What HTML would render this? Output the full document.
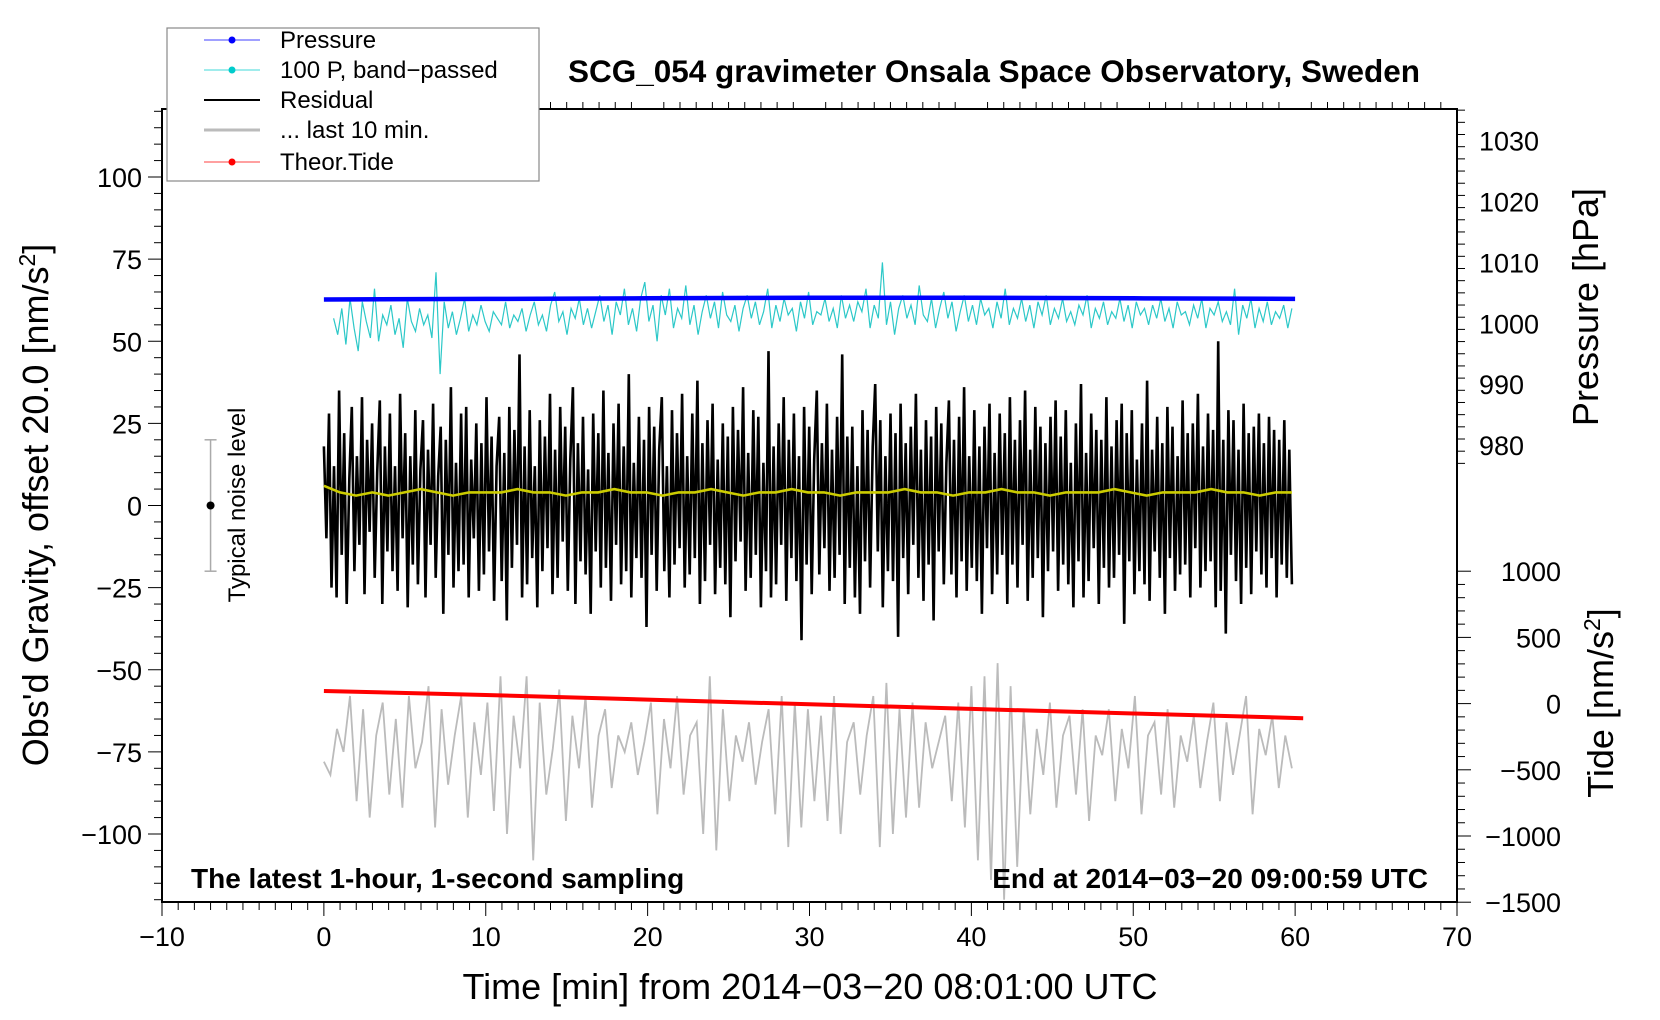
<!DOCTYPE html>
<html><head><meta charset="utf-8">
<style>
html,body{margin:0;padding:0;background:#fff;}
svg{display:block;font-family:"Liberation Sans",sans-serif;}
</style></head>
<body>
<svg id="chart" width="1660" height="1020" viewBox="0 0 1660 1020" xmlns="http://www.w3.org/2000/svg">
<rect x="0" y="0" width="1660" height="1020" fill="#fff"/>
<g id="plot"></g>
<g id="axes"></g>
<text x="994" y="82" font-size="31.5" font-weight="bold" text-anchor="middle">SCG_054 gravimeter Onsala Space Observatory, Sweden</text>
<text x="810" y="999" font-size="36" text-anchor="middle">Time [min] from 2014−03−20 08:01:00 UTC</text>
<text transform="translate(48,505) rotate(-90)" font-size="36" text-anchor="middle">Obs'd Gravity, offset 20.0 [nm/s<tspan font-size="23" dy="-13">2</tspan><tspan dy="13">]</tspan></text>
<text transform="translate(1598,307) rotate(-90)" font-size="36" text-anchor="middle">Pressure [hPa]</text>
<text transform="translate(1613,703) rotate(-90)" font-size="36" text-anchor="middle">Tide [nm/s<tspan font-size="23" dy="-13">2</tspan><tspan dy="13">]</tspan></text>
<text x="191" y="888" font-size="28" font-weight="bold">The latest 1-hour, 1-second sampling</text>
<text x="1428" y="888" font-size="28" font-weight="bold" text-anchor="end">End at 2014−03−20 09:00:59 UTC</text>
<text transform="translate(245,505) rotate(-90)" font-size="24" text-anchor="middle">Typical noise level</text>
<g id="legend">
<rect x="167" y="28" width="372" height="153" fill="#fff" stroke="#888" stroke-width="1.2"/>
<g><line x1="204" y1="40" x2="260" y2="40" stroke="#00f" stroke-width="0.8"/><circle cx="232" cy="40" r="3.5" fill="#00f"/><text x="280" y="48" font-size="24">Pressure</text></g>
<g><line x1="204" y1="70" x2="260" y2="70" stroke="#0cc" stroke-width="0.8"/><circle cx="232" cy="70" r="3.5" fill="#0cc"/><text x="280" y="78" font-size="24">100 P, band−passed</text></g>
<g><line x1="204" y1="100" x2="260" y2="100" stroke="#000" stroke-width="2"/><text x="280" y="108" font-size="24">Residual</text></g>
<g><line x1="204" y1="130" x2="260" y2="130" stroke="#bbb" stroke-width="3"/><text x="280" y="138" font-size="24">... last 10 min.</text></g>
<g><line x1="204" y1="162" x2="260" y2="162" stroke="#f00" stroke-width="0.8"/><circle cx="232" cy="162" r="3.5" fill="#f00"/><text x="280" y="170" font-size="24">Theor.Tide</text></g>
</g>
</svg>
<script>
// ---- data ----
const xTicks = [-10,0,10,20,30,40,50,60,70];
const yTicks = [-100,-75,-50,-25,0,25,50,75,100];
const pTicks = [980,990,1000,1010,1020,1030];
const tideTicks = [-1500,-1000,-500,0,500,1000];
const pressureTimes = [0,10,20,30,40,50,60];
const pressureVals = [1003.9,1004.0,1004.1,1004.2,1004.2,1004.1,1004.0];
const tideTimes = [0,10,20,30,40,50,60.5];
const tideVals = [95,65,30,-5,-40,-75,-110];
const yellowVals = [6,4,3,4,3,4,5,4,3,4,4,4,5,4,4,3,4,4,5,4,4,3,4,4,5,4,3,4,4,5,4,4,3,4,4,4,5,4,4,3,4,4,5,4,4,3,4,4,4,5,4,3,4,4,4,5,4,4,3,4,4];
const cyanVals = [57,52,60,49,63,54,47,62,56,51,66,50,58,55,61,52,57,48,63,56,53,60,55,58,51,71,40,62,54,59,52,57,63,53,58,55,61,56,53,59,57,55,62,54,58,56,60,53,58,62,55,58,53,61,65,56,59,52,60,57,63,55,60,54,59,64,56,61,52,62,58,66,55,60,53,63,68,56,61,50,64,58,66,54,60,57,67,55,61,52,59,64,57,62,54,65,58,56,61,53,60,64,57,62,55,59,66,54,61,56,63,58,60,53,62,57,65,55,59,58,63,56,60,54,64,57,61,56,62,59,66,54,61,57,74,55,62,52,60,64,57,61,55,67,58,56,63,54,60,65,57,62,53,59,64,56,61,55,63,58,60,54,62,57,66,55,60,57,63,56,61,54,62,58,64,55,60,57,63,56,59,55,61,58,64,54,60,57,62,55,59,57,63,56,61,54,62,58,60,55,61,57,63,56,60,54,62,58,59,55,61,57,63,54,60,58,62,56,59,55,66,52,61,57,63,54,60,56,62,55,59,57,61,54,60];
const residualVals = [18,-10,28,-25,12,-28,35,-15,22,-30,8,30,-20,15,-12,33,-27,20,-8,25,-22,10,32,-30,18,-14,28,-20,12,-26,34,-10,22,-31,15,-18,29,-24,11,26,-28,17,-12,31,-22,9,24,-33,20,-15,36,-25,13,-20,28,-18,30,-28,14,-10,25,-26,19,-21,33,-14,21,-29,12,27,-23,16,-35,30,-19,23,-12,46,-28,18,-24,29,-16,12,-31,26,-20,21,-13,34,-27,17,-22,30,-11,24,-26,14,36,-30,19,-17,27,-21,11,-33,28,-14,22,-25,35,-19,16,-29,25,-12,31,-24,18,-20,40,-28,13,-16,27,-22,20,-37,30,-15,24,-26,17,33,-20,12,-28,29,-18,22,-13,34,-25,15,-21,28,-16,38,-30,19,-23,26,-12,31,-27,14,-19,25,-24,21,-34,30,-17,23,-11,36,-26,16,-22,29,-15,27,-31,13,-20,47,-28,18,-24,25,-12,33,-29,20,-16,28,-23,15,-41,30,-18,24,-27,14,35,-21,19,-13,31,-26,17,-22,27,-15,46,-30,21,-19,24,-28,12,-33,29,-17,23,-25,18,37,-14,26,-31,15,-20,28,-23,22,-40,31,-16,19,-27,24,-12,34,-22,17,-29,26,-18,21,-35,30,-14,25,-24,13,32,-21,20,-28,27,-17,36,-26,15,-19,29,-23,18,-33,24,-13,31,-27,16,-21,28,-15,22,-30,33,-18,20,-25,26,-12,35,-29,17,-22,30,-16,24,-34,19,-20,27,-14,32,-26,21,-18,29,-24,13,-31,25,-17,37,-28,16,-23,28,-13,23,-30,20,-19,33,-25,18,-22,26,-15,31,-36,22,-17,29,-27,14,-20,25,-24,38,-29,17,-14,27,-22,19,-33,30,-16,24,-26,15,-21,32,-18,22,-28,25,-13,34,-25,18,-20,28,-17,23,-31,50,-26,20,-39,29,-15,26,-23,17,-30,31,-19,22,-27,24,-14,28,-21,19,-25,27,-16,23,-28,20,-18,26,-22,17,-24];
const grayVals = [-78,-82,-68,-75,-58,-90,-62,-95,-70,-60,-88,-65,-92,-58,-80,-72,-55,-98,-62,-85,-70,-58,-95,-66,-82,-60,-93,-52,-100,-64,-80,-52,-108,-60,-88,-74,-56,-96,-64,-80,-58,-92,-70,-62,-86,-70,-75,-66,-82,-72,-60,-94,-65,-80,-58,-88,-70,-66,-100,-52,-105,-62,-90,-70,-78,-66,-85,-72,-62,-94,-58,-104,-60,-98,-62,-90,-64,-96,-58,-100,-72,-66,-88,-70,-58,-104,-54,-100,-62,-95,-60,-92,-66,-80,-72,-64,-90,-60,-98,-55,-108,-52,-114,-48,-120,-55,-110,-62,-94,-68,-82,-60,-92,-70,-64,-88,-62,-96,-70,-76,-62,-90,-68,-80,-58,-94,-70,-66,-88,-62,-92,-70,-78,-64,-86,-72,-60,-90,-66,-82,-70,-58,-94,-68,-76,-64,-86,-70,-80];

// ---- scales ----
const PL=162, PR=1457, PT=109, PB=902;
const xs = t => PL + (t + 10) * (PR - PL) / 80;
const ys = v => 505.5 - v * 3.285;
const yp = p => 140.6 + (1030 - p) * 6.09;
const yt = v => 703.6 - v * 0.1324;
const NS = "http://www.w3.org/2000/svg";
const plot = document.getElementById('plot');
const axes = document.getElementById('axes');
function mk(tag, attrs, parent){const e=document.createElementNS(NS,tag);for(const k in attrs)e.setAttribute(k,attrs[k]);parent.appendChild(e);return e;}
function series(vals, t0, t1){const n=vals.length;return vals.map((v,i)=>[t0+(t1-t0)*i/(n-1),v]);}
function pathD(pts, yf){return pts.map((p,i)=>(i?'L':'M')+xs(p[0]).toFixed(1)+' '+yf(p[1]).toFixed(1)).join(' ');}

let g = mk('path',{d:pathD(series(grayVals,0,59.8),ys),fill:'none',stroke:'#bbb','stroke-width':1.8},plot);


let c = mk('path',{d:pathD(series(cyanVals,0.6,59.8),ys),fill:'none',stroke:'#2cc8c8','stroke-width':1.2},plot);


let r = mk('path',{d:pathD(series(residualVals,0,59.8),ys),fill:'none',stroke:'#000','stroke-width':2.6},plot);


let yl = mk('path',{d:pathD(series(yellowVals,0,59.8),ys),fill:'none',stroke:'#cc0','stroke-width':2.6},plot);


let p = mk('path',{d:pathD(pressureTimes.map((t,i)=>[t,pressureVals[i]]),yp),fill:'none',stroke:'#00f','stroke-width':4.5},plot);


let td = mk('path',{d:pathD(tideTimes.map((t,i)=>[t,tideVals[i]]),yt),fill:'none',stroke:'#f00','stroke-width':4},plot);



const nb = mk('g',{},plot);


const nx = xs(-7);
mk('line',{x1:nx,y1:ys(20),x2:nx,y2:ys(-20),stroke:'#aaa','stroke-width':1.5},nb);
mk('line',{x1:nx-6,y1:ys(20),x2:nx+6,y2:ys(20),stroke:'#aaa','stroke-width':1.5},nb);
mk('line',{x1:nx-6,y1:ys(-20),x2:nx+6,y2:ys(-20),stroke:'#aaa','stroke-width':1.5},nb);
mk('circle',{cx:nx,cy:ys(0),r:4,fill:'#000'},nb);

const fr = mk('rect',{x:PL,y:PT,width:PR-PL,height:PB-PT,fill:'none',stroke:'#000','stroke-width':2},axes);



for(let t=-10;t<=70;t++){const maj=t%10===0;mk('line',{x1:xs(t),y1:PB,x2:xs(t),y2:PB+(maj?14:8),stroke:'#000','stroke-width':1},axes);mk('line',{x1:xs(t),y1:PT,x2:xs(t),y2:PT-(maj?0:7),stroke:'#000','stroke-width':1},axes);}
xTicks.forEach(t=>{const e=mk('text',{x:xs(t),y:PB+44,'font-size':27,'text-anchor':'middle'},axes);e.textContent=String(t).replace('-','−');

});
for(let v=-120;v<=120;v+=5){const maj=v%25===0;mk('line',{x1:PL,y1:ys(v),x2:PL-(maj?14:8),y2:ys(v),stroke:'#000','stroke-width':1},axes);}
yTicks.forEach(v=>{const e=mk('text',{x:PL-20,y:ys(v)+10,'font-size':27,'text-anchor':'end'},axes);e.textContent=String(v).replace('-','−');

});
for(let v=975;v<=1035;v+=2){if(yp(v)<PT||yp(v)>470)continue;const maj=v%10===0;mk('line',{x1:PR,y1:yp(v),x2:PR+(maj?14:8),y2:yp(v),stroke:'#000','stroke-width':1},axes);}
pTicks.forEach(v=>{const e=mk('text',{x:PR+22,y:yp(v)+10,'font-size':27},axes);e.textContent=String(v);

});
for(let v=-1500;v<=1100;v+=100){if(yt(v)<560)continue;const maj=v%500===0;mk('line',{x1:PR,y1:yt(v),x2:PR+(maj?14:8),y2:yt(v),stroke:'#000','stroke-width':1},axes);}
tideTicks.forEach(v=>{const e=mk('text',{x:PR+104,y:yt(v)+10,'font-size':27,'text-anchor':'end'},axes);e.textContent=String(v).replace('-','−');

});
</script>
</body></html>
